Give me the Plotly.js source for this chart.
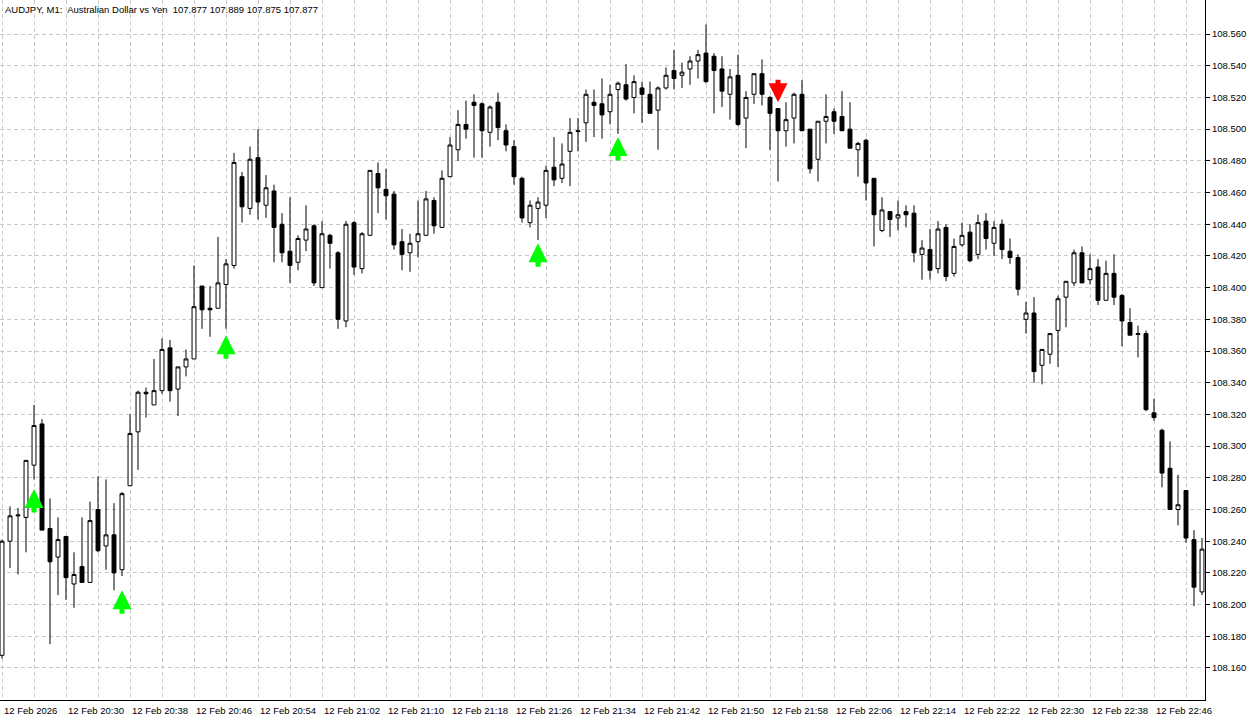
<!DOCTYPE html>
<html>
<head>
<meta charset="utf-8">
<script src="https://cdn.plot.ly/plotly-3.0.1.min.js"></script>
<style>
html, body { margin: 0; padding: 0; background: #ffffff; }
#chart { width: 1260px; height: 720px; }
</style>
</head>
<body>
<div id="chart"></div>
<script>
// ---- data (AUDJPY, M1), one value per minute bar ----
const openP = [
108.168,108.240,108.256,108.255,108.288,108.314,108.248,108.230,108.243,108.213,
108.224,108.214,108.260,108.237,108.244,108.222,108.275,108.309,108.334,108.326,
108.335,108.362,108.336,108.350,108.355,108.401,108.387,108.387,108.402,108.414,
108.470,108.450,108.482,108.452,108.461,108.440,108.423,108.416,108.430,108.439,
108.400,108.433,108.422,108.379,108.441,108.412,108.433,108.472,108.462,108.459,
108.429,108.422,108.429,108.433,108.455,108.438,108.470,108.487,108.503,108.517,
108.516,108.498,108.517,108.499,108.489,108.469,108.441,108.450,108.452,108.476,
108.469,108.486,108.499,108.504,108.517,108.516,108.511,108.525,108.528,108.520,
108.526,108.522,108.512,108.526,108.537,108.534,108.538,108.543,108.548,108.546,
108.538,108.522,108.534,108.507,108.522,108.535,108.520,108.513,108.499,108.507,
108.522,108.500,108.481,108.505,108.511,108.508,108.500,108.487,108.493,108.469,
108.436,108.448,108.444,108.448,108.447,108.421,108.424,108.412,108.438,108.409,
108.427,108.435,108.421,108.442,108.428,108.440,108.423,108.419,108.380,108.384,
108.351,108.358,108.373,108.394,108.403,108.422,108.405,108.413,108.392,108.409,
108.395,108.378,108.371,108.371,108.321,108.310,108.286,108.260,108.272,108.241,
108.208
];
const highP = [
108.241,108.262,108.261,108.291,108.326,108.317,108.267,108.255,108.243,108.233,
108.255,108.265,108.281,108.279,108.264,108.271,108.320,108.335,108.337,108.355,
108.368,108.367,108.350,108.361,108.414,108.401,108.401,108.432,108.418,108.485,
108.473,108.489,108.500,108.471,108.465,108.447,108.457,108.433,108.452,108.440,
108.442,108.434,108.423,108.442,108.442,108.435,108.474,108.479,108.475,108.461,
108.437,108.434,108.455,108.461,108.457,108.474,108.495,108.512,108.518,108.522,
108.517,108.515,108.523,108.503,108.493,108.470,108.455,108.457,108.477,108.495,
108.491,108.507,108.507,108.525,108.525,108.532,108.528,108.530,108.541,108.534,
108.530,108.530,108.527,108.539,108.550,108.542,108.546,108.550,108.566,108.548,
108.546,108.538,108.547,108.524,108.535,108.544,108.521,108.513,108.517,108.523,
108.531,108.500,108.505,108.522,108.513,108.524,108.517,108.492,108.494,108.469,
108.457,108.448,108.455,108.452,108.452,108.430,108.437,108.442,108.440,108.431,
108.441,108.440,108.446,108.447,108.442,108.443,108.431,108.421,108.391,108.394,
108.361,108.371,108.395,108.404,108.424,108.426,108.421,108.418,108.417,108.421,
108.396,108.387,108.376,108.373,108.330,108.311,108.303,108.282,108.272,108.247,
108.242
];
const lowP = [
108.166,108.223,108.219,108.233,108.279,108.247,108.175,108.206,108.203,108.198,
108.214,108.214,108.233,108.222,108.209,108.218,108.275,108.285,108.318,108.326,
108.333,108.328,108.319,108.344,108.355,108.374,108.369,108.387,108.374,108.412,
108.441,108.446,108.443,108.444,108.416,108.416,108.403,108.411,108.423,108.401,
108.400,108.412,108.374,108.375,108.408,108.409,108.433,108.447,108.443,108.424,
108.411,108.410,108.419,108.433,108.434,108.438,108.470,108.480,108.494,108.482,
108.482,108.489,108.493,108.486,108.465,108.441,108.438,108.430,108.444,108.464,
108.466,108.464,108.486,108.492,108.495,108.494,108.503,108.497,108.518,108.510,
108.504,108.510,108.487,108.525,108.525,108.526,108.528,108.532,108.529,108.510,
108.514,108.506,108.502,108.488,108.516,108.515,108.487,108.467,108.489,108.491,
108.499,108.472,108.467,108.491,108.497,108.499,108.488,108.470,108.455,108.426,
108.435,108.432,108.436,108.438,108.416,108.405,108.405,108.409,108.404,108.407,
108.426,108.416,108.418,108.424,108.420,108.418,108.415,108.395,108.371,108.340,
108.339,108.352,108.350,108.375,108.401,108.403,108.402,108.389,108.392,108.389,
108.363,108.370,108.356,108.322,108.316,108.274,108.260,108.250,108.239,108.199,
108.206
];
const closeP = [
108.240,108.256,108.2565,108.291,108.313,108.247,108.227,108.241,108.217,108.219,
108.214,108.253,108.234,108.244,108.220,108.270,108.308,108.334,108.333,108.335,
108.361,108.335,108.350,108.355,108.388,108.386,108.386,108.403,108.415,108.479,
108.451,108.481,108.454,108.463,108.438,108.422,108.414,108.431,108.437,108.403,
108.434,108.428,108.380,108.440,108.413,108.434,108.474,108.463,108.458,108.427,
108.421,108.428,108.434,108.456,108.439,108.469,108.490,108.503,108.500,108.515,
108.499,108.514,108.501,108.490,108.470,108.444,108.452,108.454,108.474,108.468,
108.478,108.498,108.4985,108.522,108.515,108.509,108.522,108.529,108.519,108.530,
108.522,108.510,108.526,108.534,108.532,108.536,108.543,108.547,108.530,108.537,
108.524,108.533,108.503,108.520,108.535,108.522,108.510,108.499,108.506,108.522,
108.499,108.475,108.505,108.508,108.505,108.499,108.488,108.491,108.466,108.446,
108.449,108.443,108.446,108.446,108.422,108.425,108.411,108.437,108.407,108.426,
108.433,108.417,108.441,108.431,108.438,108.424,108.419,108.399,108.384,108.347,
108.361,108.371,108.393,108.404,108.422,108.403,108.412,108.392,108.409,108.394,
108.379,108.370,108.3705,108.323,108.318,108.283,108.260,108.263,108.242,108.211,
108.235
];

// price-axis ticks
const priceTicks = [108.16, 108.18, 108.20, 108.22, 108.24, 108.26, 108.28, 108.30, 108.32, 108.34,
  108.36, 108.38, 108.40, 108.42, 108.44, 108.46, 108.48, 108.50, 108.52, 108.54, 108.56];

// time-axis labels (every 8th bar)
const timeLabelIdx = [0, 8, 16, 24, 32, 40, 48, 56, 64, 72, 80, 88, 96, 104, 112, 120, 128, 136, 144];
const timeLabels = ["12 Feb 2026", "12 Feb 20:30", "12 Feb 20:38", "12 Feb 20:46", "12 Feb 20:54",
  "12 Feb 21:02", "12 Feb 21:10", "12 Feb 21:18", "12 Feb 21:26", "12 Feb 21:34", "12 Feb 21:42",
  "12 Feb 21:50", "12 Feb 21:58", "12 Feb 22:06", "12 Feb 22:14", "12 Feb 22:22", "12 Feb 22:30",
  "12 Feb 22:38", "12 Feb 22:46"];

// signal arrows: bar index and price at the arrow tip
const buyIdx = [4, 15, 28, 67, 77];
const buyPrice = [108.273, 108.209, 108.370, 108.428, 108.495];
const sellIdx = [97];
const sellPrice = [108.517];

const titleText = "AUDJPY, M1:  Australian Dollar vs Yen  107.877 107.889 107.875 107.877";

// ---- chart ----
const barIdx = openP.map((_, i) => i);
const FONT = "Liberation Sans, Arial, sans-serif";

const candles = {
  type: 'candlestick',
  x: barIdx,
  open: openP, high: highP, low: lowP, close: closeP,
  increasing: { line: { color: '#000000', width: 1 }, fillcolor: '#ffffff' },
  decreasing: { line: { color: '#000000', width: 1 }, fillcolor: '#000000' },
  whiskerwidth: 0,
  hoverinfo: 'skip',
  showlegend: false
};

const annotations = [];
timeLabelIdx.forEach((ix, k) => {
  annotations.push({
    x: ix, y: 0, xref: 'x', yref: 'paper',
    xanchor: 'left', yanchor: 'top', xshift: 0, yshift: -3,
    text: timeLabels[k], showarrow: false,
    font: { family: FONT, size: 9.5, color: '#000000' }
  });
});
function arrowAnn(ix, price, color, ay) {
  return {
    x: ix, y: price, xref: 'x', yref: 'y',
    text: '', font: { size: 1 }, borderpad: 0,
    showarrow: true, arrowhead: 2, arrowsize: 0.76, arrowwidth: 5,
    arrowcolor: color, ax: 0, ay: ay, standoff: 0
  };
}
buyIdx.forEach((ix, k) => annotations.push(arrowAnn(ix, buyPrice[k], '#00ff00', 24)));
sellIdx.forEach((ix, k) => annotations.push(arrowAnn(ix, sellPrice[k], '#ff0000', -23)));

const gridStyle = { gridcolor: '#c8c8c8', griddash: '4px,3px', gridwidth: 1 };

const layout = {
  width: 1260, height: 720,
  margin: { l: 0, r: 55, t: 0, b: 20, pad: 0 },
  paper_bgcolor: '#ffffff', plot_bgcolor: '#ffffff',
  showlegend: false,
  title: {
    text: titleText, x: 0.004, xanchor: 'left', y: 0.986, yanchor: 'middle',
    font: { family: FONT, size: 9.5, color: '#000000' }
  },
  xaxis: Object.assign({
    type: 'linear',
    range: [-0.25, 150.375],
    tickmode: 'linear', tick0: 0, dtick: 4,
    showticklabels: false, ticks: '',
    showgrid: true, zeroline: false,
    showline: true, linecolor: '#000000', linewidth: 1, mirror: true,
    rangeslider: { visible: false },
    fixedrange: true
  }, gridStyle),
  yaxis: Object.assign({
    side: 'right',
    range: [108.1398, 108.5815],
    tickmode: 'array', tickvals: priceTicks,
    tickformat: '.3f',
    ticks: 'outside', ticklen: 4, tickcolor: '#000000',
    tickfont: { family: FONT, size: 9.5, color: '#000000' },
    showgrid: true, zeroline: false,
    showline: true, linecolor: '#000000', linewidth: 1, mirror: true,
    fixedrange: true
  }, gridStyle),
  annotations: annotations
};

Plotly.newPlot('chart', [candles], layout, { staticPlot: true, displayModeBar: false });
</script>
</body>
</html>
